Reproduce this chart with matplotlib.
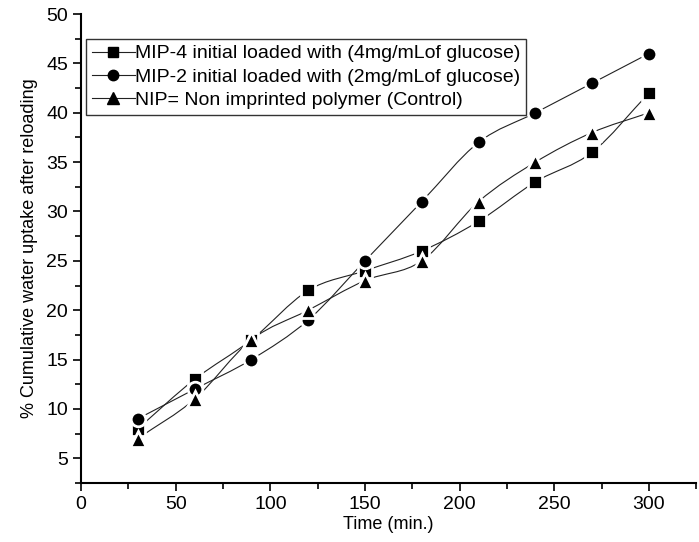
import numpy as np
import matplotlib.pyplot as plt
from matplotlib.path import Path
from matplotlib.patches import PathPatch
from matplotlib.lines import Line2D
from matplotlib.ticker import MultipleLocator

plt.rcParams['font.family'] = ['Liberation Sans', 'DejaVu Sans']

time = [30, 60, 90, 120, 150, 180, 210, 240, 270, 300]
mip4 = [8, 13, 17, 22, 24, 26, 29, 33, 36, 42]
mip2 = [9, 12, 15, 19, 25, 31, 37, 40, 43, 46]
nip = [7, 11, 17, 20, 23, 25, 31, 35, 38, 40]

labels = ["MIP-4 initial loaded with (4mg/mLof glucose)",
          "MIP-2 initial loaded with (2mg/mLof glucose)",
          "NIP= Non imprinted polymer (Control)"]
markers = ["s", "o", "^"]
msizes = [10, 10.5, 11]


def smooth_path(x, y):
    # catmull-rom -> cubic bezier segments
    x = np.asarray(x, float)
    y = np.asarray(y, float)
    px = np.concatenate([[2 * x[0] - x[1]], x, [2 * x[-1] - x[-2]]])
    py = np.concatenate([[2 * y[0] - y[1]], y, [2 * y[-1] - y[-2]]])
    verts = [(x[0], y[0])]
    codes = [Path.MOVETO]
    for i in range(1, len(px) - 2):
        c1 = (px[i] + (px[i + 1] - px[i - 1]) / 6, py[i] + (py[i + 1] - py[i - 1]) / 6)
        c2 = (px[i + 1] - (px[i + 2] - px[i]) / 6, py[i + 1] - (py[i + 2] - py[i]) / 6)
        verts += [c1, c2, (px[i + 1], py[i + 1])]
        codes += [Path.CURVE4] * 3
    return Path(verts, codes)


fig = plt.figure(figsize=(6.99, 5.42), dpi=100)
ax = fig.add_axes([0.116, 0.109, 0.88, 0.865])

handles = []
for ys, m, sz, lab in zip([mip4, mip2, nip], markers, msizes, labels):
    ax.add_patch(PathPatch(smooth_path(time, ys), fill=False, ec="#222222", lw=0.8, zorder=2))
    ax.plot(time, ys, ls="none", marker=m, ms=sz, mfc="black", mec="white", mew=2.0, zorder=3)
    handles.append(Line2D([], [], color="#222222", lw=0.8, marker=m, ms=sz - 3, mfc="black", mec="black"))

ax.set_xlim(0, 325)
ax.set_ylim(2.5, 50)
ax.xaxis.set_major_locator(MultipleLocator(50))
ax.xaxis.set_minor_locator(MultipleLocator(25))
ax.yaxis.set_major_locator(MultipleLocator(5))
ax.yaxis.set_minor_locator(MultipleLocator(2.5))
ax.spines["top"].set_visible(False)
ax.spines["right"].set_visible(False)
for s in ["left", "bottom"]:
    ax.spines[s].set_linewidth(1.5)
ax.tick_params(which="major", direction="out", length=6, width=1.2, labelsize=14)
ax.tick_params(which="minor", direction="out", length=4, width=1.2)

ax.set_xlabel("Time (min.)", fontsize=13, labelpad=2)
ax.set_ylabel("% Cumulative water uptake after reloading", fontsize=13, labelpad=6)

leg = ax.legend(handles, labels, loc="upper left", bbox_to_anchor=(0.008, 0.947),
                fontsize=14, frameon=True, fancybox=False, handlelength=2.2,
                handletextpad=0.0, labelspacing=0.3, borderpad=0.3, borderaxespad=0)
leg.get_frame().set_edgecolor("black")
leg.get_frame().set_linewidth(1.0)

fig.savefig("out.png", dpi=100)
